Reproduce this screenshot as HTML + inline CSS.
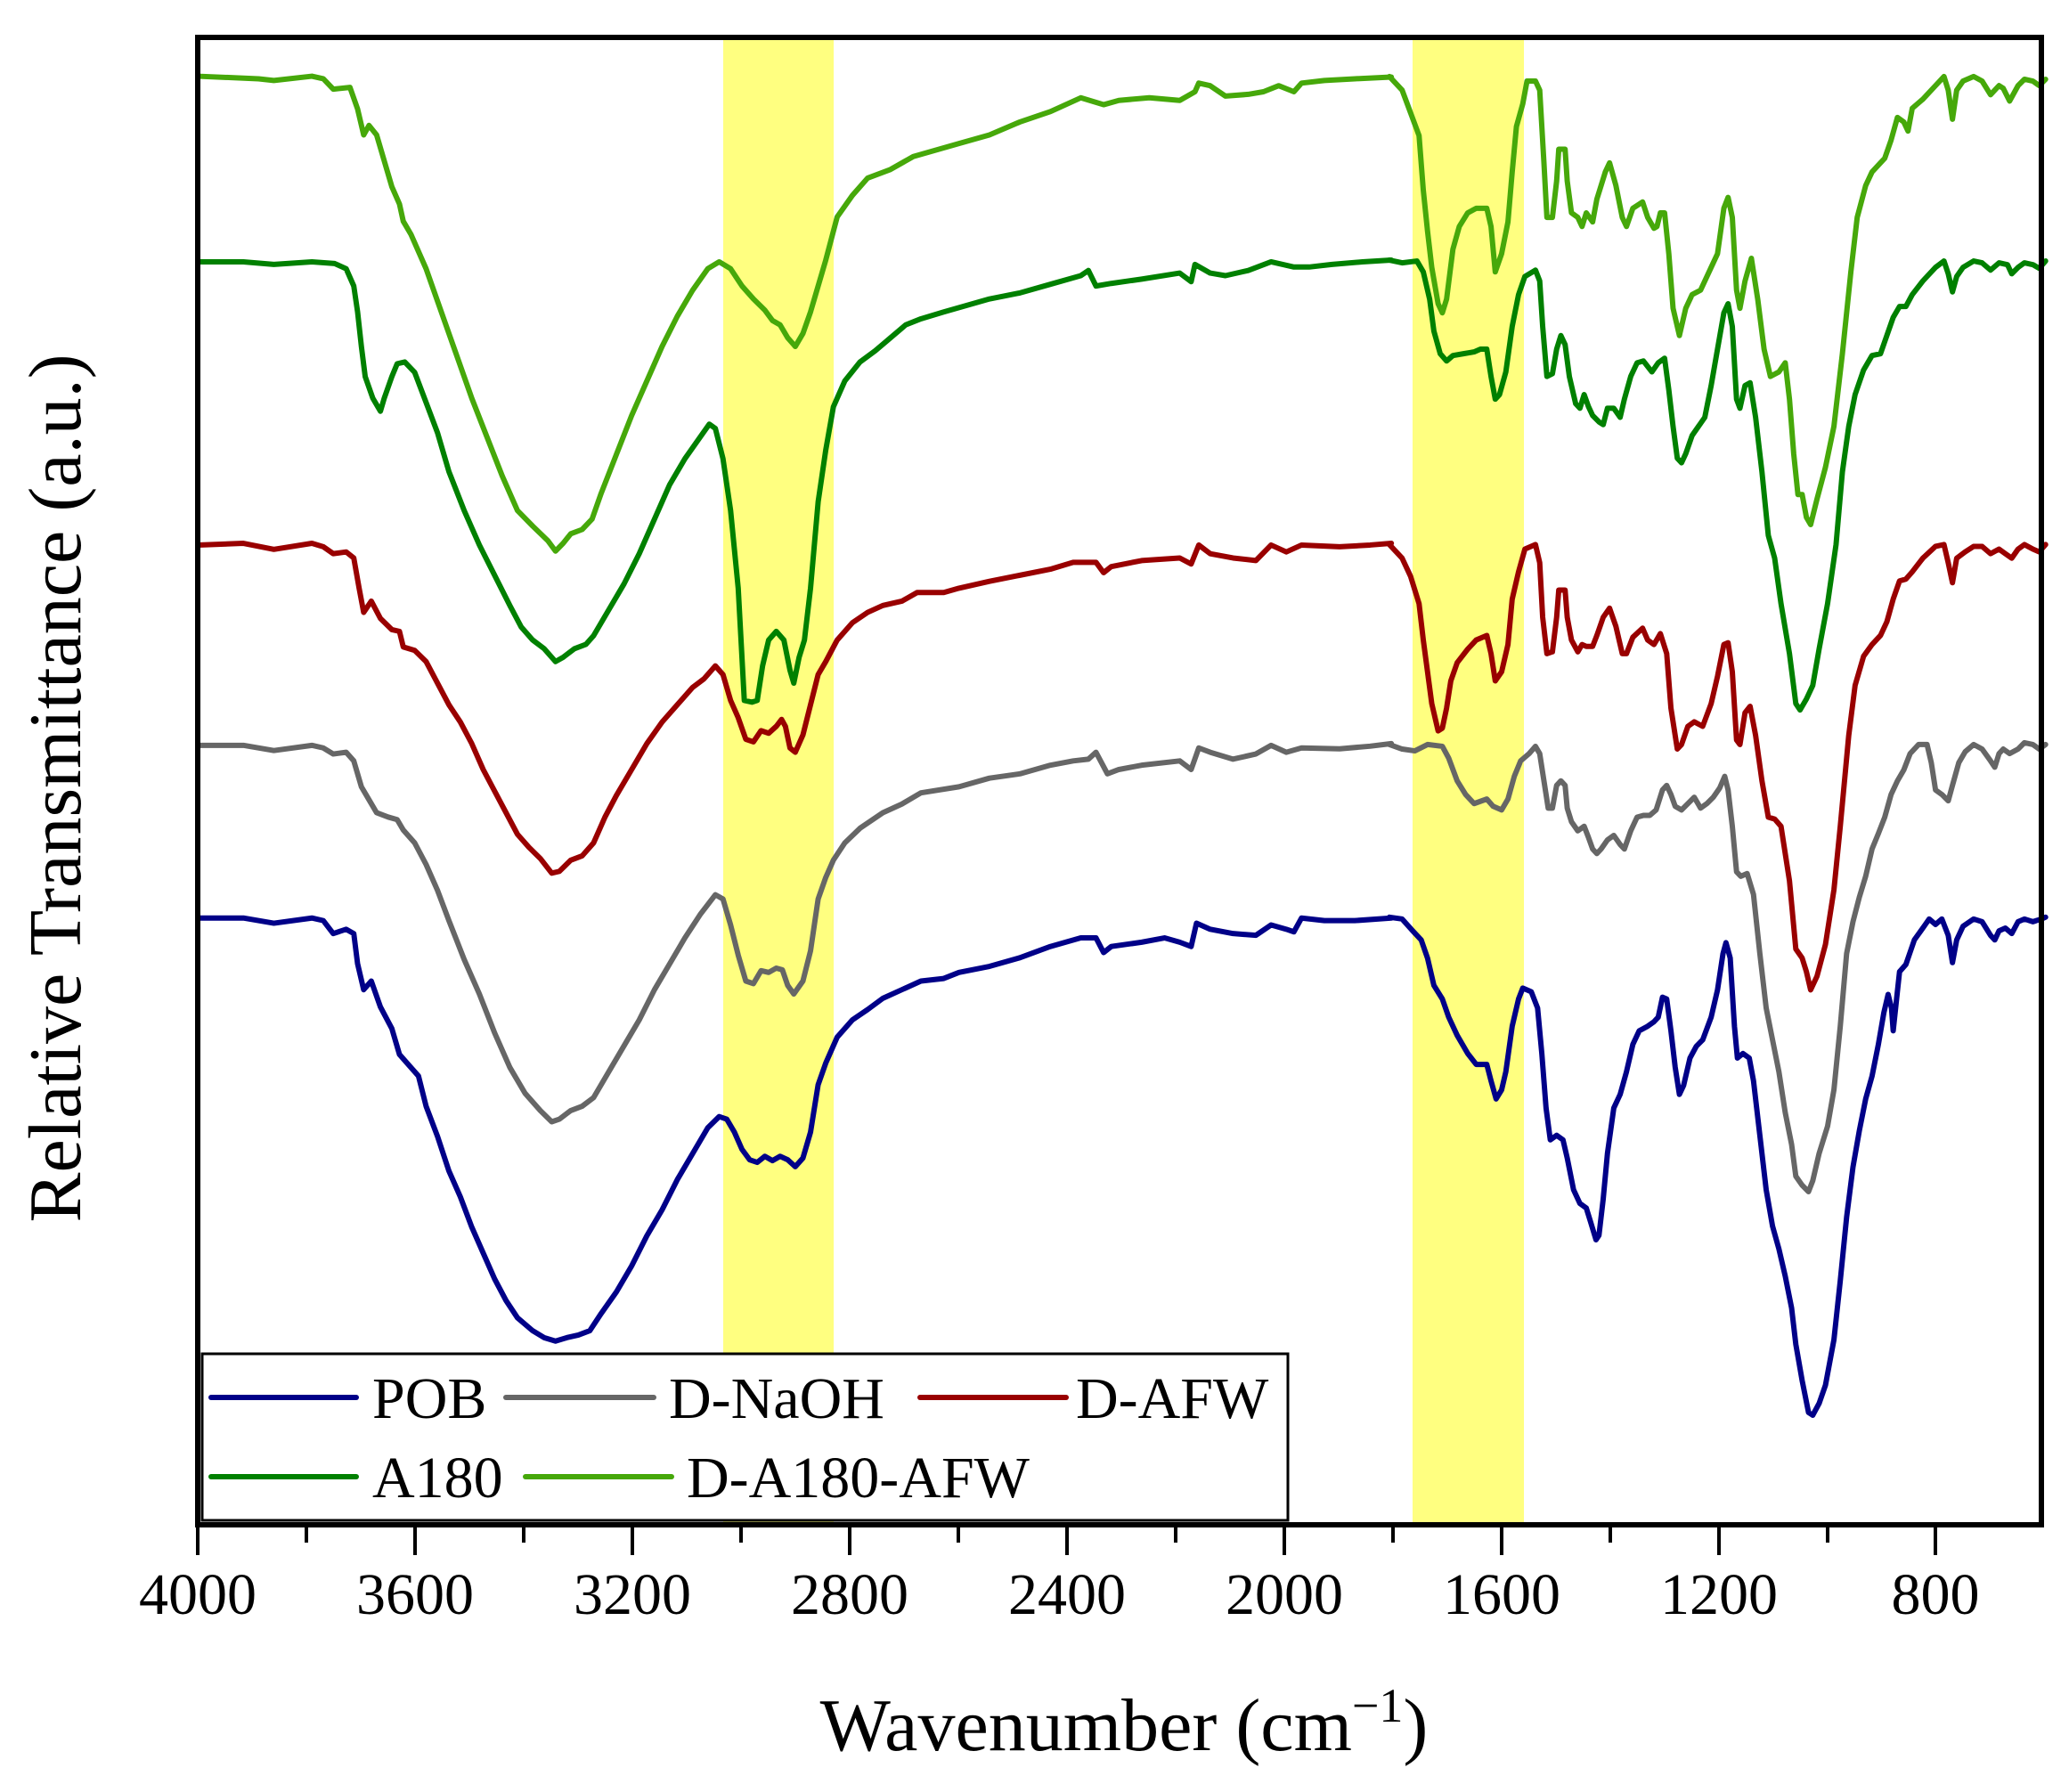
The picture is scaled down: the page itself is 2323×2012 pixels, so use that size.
<!DOCTYPE html>
<html><head><meta charset="utf-8"><style>html,body{margin:0;padding:0;background:#fff}svg{display:block}</style></head>
<body>
<svg xmlns="http://www.w3.org/2000/svg" width="2323" height="2012" viewBox="0 0 2323 2012" font-family="'Liberation Serif', serif">
<rect x="0" y="0" width="2323" height="2012" fill="#fff"/>
<rect x="812" y="40" width="124" height="1672" fill="#ffff80"/>
<rect x="1586" y="40" width="125" height="1672" fill="#ffff80"/>
<g fill="none" stroke-width="6" stroke-linejoin="round" stroke-linecap="round">
<g transform="translate(222,40) scale(0.8547,0.9694)">
<polyline vector-effect="non-scaling-stroke" stroke="#46a80a" points="0,47 80,50 100,52 150,47 165,50 178,62 200,60 210,85 218,115 225,104 235,115 245,145 255,175 265,195 270,215 280,230 300,270 320,320 340,370 360,420 380,465 400,510 420,550 440,568 460,585 470,597 480,588 490,577 505,572 518,560 530,530 550,485 570,440 590,400 610,360 630,325 650,295 670,270 685,262 700,270 715,290 730,305 745,318 755,330 765,335 775,350 785,360 795,345 805,320 815,290 825,260 840,210 860,185 880,165 910,155 940,140 960,135 1000,125 1040,115 1080,100 1120,88 1160,72 1190,80 1210,75 1250,72 1290,75 1310,65 1315,55 1330,58 1350,70 1380,68 1400,65 1420,58 1440,65 1450,55 1480,52 1520,50 1568,48"/>
<polyline vector-effect="non-scaling-stroke" stroke="#008000" points="0,262 60,262 100,265 150,262 180,264 195,270 205,290 210,320 215,360 220,395 230,420 240,435 245,420 255,395 262,380 272,378 285,390 300,425 315,460 330,505 350,550 370,590 390,625 410,660 425,685 440,700 455,710 470,725 480,720 495,710 510,705 520,695 540,665 560,635 580,600 600,560 620,520 640,490 660,465 672,450 680,455 690,490 700,550 710,640 718,770 728,772 735,770 742,730 750,700 760,690 770,700 778,735 783,750 790,720 797,700 805,640 815,540 825,480 835,430 850,400 870,378 890,365 910,350 930,335 950,328 980,320 1000,315 1040,305 1080,298 1120,288 1160,278 1170,272 1180,290 1200,287 1240,282 1290,275 1305,285 1310,265 1330,275 1350,278 1380,272 1410,262 1440,268 1460,268 1490,265 1530,262 1568,260"/>
<polyline vector-effect="non-scaling-stroke" stroke="#990000" points="0,590 60,588 100,595 150,588 165,592 178,600 195,598 205,605 212,640 218,668 228,655 240,675 255,688 265,690 270,708 285,712 300,725 315,750 330,775 345,795 360,820 375,850 390,875 405,900 420,925 435,940 450,953 465,970 475,968 490,955 505,950 520,935 535,905 550,880 570,850 590,820 610,795 630,775 650,755 665,745 680,730 690,740 700,770 710,790 720,815 730,818 740,805 750,808 760,800 767,792 772,800 778,825 785,830 795,810 805,775 815,740 825,725 840,700 860,680 880,668 900,660 925,655 945,645 980,645 1000,640 1040,632 1080,625 1120,618 1150,610 1180,610 1190,622 1200,615 1240,608 1290,605 1305,612 1315,590 1330,600 1360,605 1390,608 1410,590 1430,598 1450,590 1500,592 1540,590 1568,588"/>
<polyline vector-effect="non-scaling-stroke" stroke="#666666" points="0,822 60,822 100,828 150,822 165,825 178,832 195,830 205,840 215,870 225,885 235,900 250,905 262,908 270,920 285,935 300,960 315,990 330,1025 350,1070 370,1110 390,1155 410,1195 430,1225 450,1245 465,1258 475,1255 490,1245 505,1240 520,1230 540,1200 560,1170 580,1140 600,1105 620,1075 640,1045 660,1018 680,995 690,1000 700,1030 710,1065 720,1095 730,1098 740,1083 750,1085 760,1080 768,1082 775,1100 783,1110 795,1095 805,1060 815,1000 825,975 835,955 850,935 870,918 900,900 925,890 950,877 1000,870 1040,860 1080,855 1120,845 1150,840 1170,838 1180,830 1195,855 1210,850 1240,845 1290,840 1305,850 1315,825 1330,830 1360,838 1390,832 1410,822 1430,830 1450,825 1500,826 1540,823 1568,820"/>
<polyline vector-effect="non-scaling-stroke" stroke="#000088" points="0,1022 60,1022 100,1028 150,1022 165,1025 178,1040 195,1035 205,1040 210,1075 218,1105 228,1095 240,1125 255,1150 265,1180 275,1190 290,1205 300,1240 315,1275 330,1315 345,1345 360,1380 375,1410 390,1440 405,1465 420,1485 440,1500 455,1508 470,1512 485,1508 500,1505 515,1500 530,1480 550,1455 570,1425 590,1390 610,1360 630,1325 650,1295 670,1265 685,1252 695,1255 705,1270 715,1290 725,1302 735,1305 745,1298 755,1303 765,1298 775,1302 785,1310 795,1300 805,1270 815,1215 825,1190 840,1160 860,1140 880,1128 900,1115 925,1105 950,1095 980,1092 1000,1085 1040,1078 1080,1068 1120,1055 1160,1045 1180,1045 1190,1062 1200,1055 1240,1050 1270,1045 1290,1050 1305,1055 1312,1028 1330,1035 1360,1040 1390,1042 1410,1030 1430,1035 1440,1038 1450,1022 1480,1025 1520,1025 1568,1022"/>
</g>
<g transform="translate(1560,40) scale(0.4753,1.0204)">
<polyline vector-effect="non-scaling-stroke" stroke="#46a80a" points="0,45 30,60 50,85 70,110 80,170 90,215 100,255 115,295 125,305 135,290 150,235 165,210 185,195 205,190 230,190 240,210 250,260 265,240 280,205 290,150 300,100 315,75 325,50 345,50 355,60 365,140 372,200 385,200 395,160 400,125 415,125 420,160 430,195 445,200 455,210 465,195 480,205 490,180 510,150 520,140 535,165 550,200 560,210 575,190 598,183 610,200 625,212 632,210 640,195 650,195 660,240 670,300 685,330 700,300 715,285 735,280 760,255 775,240 790,190 800,178 810,200 820,280 828,300 840,270 855,245 870,290 885,345 900,375 920,370 935,360 945,400 955,460 965,505 975,505 985,530 995,538 1010,510 1030,475 1050,430 1070,350 1090,260 1105,200 1125,165 1140,150 1160,140 1170,135 1185,115 1200,90 1215,95 1225,105 1235,80 1260,70 1290,55 1310,45 1320,60 1330,92 1340,60 1355,50 1380,45 1400,50 1420,65 1440,55 1450,58 1465,72 1485,55 1500,48 1520,50 1535,55 1550,48"/>
<polyline vector-effect="non-scaling-stroke" stroke="#008000" points="0,247 30,250 65,248 80,260 95,290 105,325 120,350 135,358 150,352 175,350 200,348 215,345 230,345 240,375 250,400 260,395 275,370 290,320 305,285 320,265 345,258 355,270 362,320 372,375 385,372 395,345 405,330 415,340 425,375 440,405 450,410 460,395 470,408 480,418 495,425 505,428 515,410 530,410 545,420 555,400 570,375 585,360 600,358 620,370 635,360 650,355 660,390 670,430 680,465 690,470 700,460 715,440 730,430 745,420 760,385 775,345 790,305 800,295 810,320 820,400 828,410 840,385 852,382 865,420 880,480 895,550 910,575 925,625 945,680 960,735 970,742 985,730 1000,715 1015,675 1035,625 1055,560 1070,480 1085,430 1100,395 1120,368 1140,352 1160,350 1175,330 1190,310 1205,298 1220,298 1235,285 1260,270 1290,255 1310,248 1320,262 1330,282 1340,265 1355,255 1380,248 1400,250 1420,258 1440,250 1460,252 1470,262 1485,255 1500,250 1520,252 1535,256 1550,248"/>
<polyline vector-effect="non-scaling-stroke" stroke="#990000" points="0,560 30,575 50,595 70,625 80,665 90,700 100,735 115,765 125,762 135,740 145,710 160,690 185,675 205,665 230,660 240,680 250,710 265,700 280,670 290,620 305,590 320,565 345,560 355,580 362,640 372,680 385,678 395,640 400,610 415,610 420,640 430,665 445,678 455,670 465,672 480,672 490,660 505,640 520,630 535,650 550,680 560,680 575,662 598,652 610,665 625,670 640,658 655,680 665,740 680,785 690,780 705,760 720,755 740,760 760,735 775,705 790,670 800,668 810,700 820,775 828,780 840,745 852,738 865,770 880,820 895,860 910,862 925,870 945,930 960,1005 975,1015 985,1030 995,1050 1010,1035 1030,1000 1050,940 1065,870 1085,770 1100,715 1120,683 1140,670 1160,660 1175,645 1190,620 1205,600 1220,598 1235,590 1260,575 1290,562 1310,560 1320,580 1330,602 1340,575 1360,568 1380,562 1400,562 1420,570 1440,565 1455,570 1470,575 1485,565 1500,560 1520,565 1535,568 1550,560"/>
<polyline vector-effect="non-scaling-stroke" stroke="#666666" points="0,780 30,785 60,787 90,780 125,782 140,795 160,820 180,835 200,845 230,840 245,848 265,852 280,840 295,815 310,798 330,790 345,782 355,790 365,820 375,850 385,850 395,825 405,820 415,825 420,850 430,865 445,875 460,870 470,882 480,895 490,900 500,895 515,885 530,880 545,890 555,895 570,875 585,860 600,858 615,858 630,852 645,830 655,825 665,835 675,848 690,852 705,845 720,838 735,850 750,845 765,838 780,828 792,815 800,830 810,870 820,920 830,925 845,922 860,945 875,1010 890,1070 905,1105 920,1140 935,1185 950,1220 960,1255 975,1265 990,1272 1000,1260 1015,1230 1035,1200 1050,1160 1065,1090 1080,1010 1095,975 1110,948 1125,925 1140,895 1155,878 1170,860 1185,835 1200,820 1215,808 1230,790 1250,780 1270,780 1280,800 1290,830 1305,835 1320,842 1330,825 1345,800 1360,788 1380,780 1400,785 1420,798 1430,805 1440,790 1450,785 1465,790 1485,785 1500,778 1520,780 1535,785 1550,780"/>
<polyline vector-effect="non-scaling-stroke" stroke="#000088" points="0,970 30,972 55,985 75,995 90,1015 105,1045 125,1060 140,1080 160,1100 185,1120 205,1132 230,1132 240,1150 252,1170 265,1160 275,1140 290,1090 305,1060 315,1048 335,1052 350,1070 360,1120 370,1180 380,1215 395,1210 410,1215 420,1235 435,1270 450,1285 465,1290 475,1305 488,1325 495,1320 505,1280 515,1230 530,1180 545,1165 560,1140 575,1110 590,1095 610,1090 625,1085 635,1080 645,1058 655,1060 665,1095 675,1135 685,1165 695,1155 710,1125 725,1112 740,1105 760,1080 775,1050 788,1010 795,998 805,1015 815,1090 822,1125 835,1120 850,1125 860,1150 875,1210 890,1270 905,1310 920,1335 935,1365 950,1400 960,1440 975,1480 990,1515 1000,1518 1015,1505 1030,1485 1050,1435 1065,1370 1080,1300 1095,1245 1110,1205 1125,1170 1140,1145 1155,1110 1168,1075 1178,1055 1186,1070 1190,1095 1198,1060 1205,1030 1220,1022 1240,995 1260,982 1275,972 1290,978 1305,972 1320,990 1330,1020 1340,995 1355,980 1380,972 1400,975 1420,990 1430,995 1440,985 1455,982 1470,988 1485,975 1500,972 1520,975 1540,972 1550,970"/>
</g>
</g>
<rect x="227" y="1520" width="1219" height="187" fill="#fff" stroke="#000" stroke-width="3"/>
<g stroke-width="6" stroke-linecap="round">
<line x1="237" y1="1569" x2="400" y2="1569" stroke="#000088"/>
<line x1="568" y1="1569" x2="734" y2="1569" stroke="#666666"/>
<line x1="1033" y1="1569" x2="1197" y2="1569" stroke="#990000"/>
<line x1="237" y1="1658" x2="400" y2="1658" stroke="#008000"/>
<line x1="590" y1="1658" x2="754" y2="1658" stroke="#46a80a"/>
</g>
<g font-size="66" fill="#000">
<text x="418" y="1592">POB</text>
<text x="751" y="1592">D-NaOH</text>
<text x="1208" y="1592">D-AFW</text>
<text x="418" y="1681">A180</text>
<text x="771" y="1681">D-A180-AFW</text>
</g>
<rect x="222" y="42" width="2070" height="1670" fill="none" stroke="#000" stroke-width="6"/>
<g stroke="#000" stroke-width="4">
<line x1="222" y1="1712" x2="222" y2="1746"/><line x1="344" y1="1712" x2="344" y2="1732"/>
<line x1="466" y1="1712" x2="466" y2="1746"/><line x1="588" y1="1712" x2="588" y2="1732"/>
<line x1="710" y1="1712" x2="710" y2="1746"/><line x1="832" y1="1712" x2="832" y2="1732"/>
<line x1="954" y1="1712" x2="954" y2="1746"/><line x1="1076" y1="1712" x2="1076" y2="1732"/>
<line x1="1198" y1="1712" x2="1198" y2="1746"/><line x1="1320" y1="1712" x2="1320" y2="1732"/>
<line x1="1442" y1="1712" x2="1442" y2="1746"/><line x1="1564" y1="1712" x2="1564" y2="1732"/>
<line x1="1686" y1="1712" x2="1686" y2="1746"/><line x1="1808" y1="1712" x2="1808" y2="1732"/>
<line x1="1930" y1="1712" x2="1930" y2="1746"/><line x1="2052" y1="1712" x2="2052" y2="1732"/>
<line x1="2173" y1="1712" x2="2173" y2="1746"/>
</g>
<g font-size="66" text-anchor="middle" fill="#000">
<text x="222" y="1812">4000</text><text x="466" y="1812">3600</text><text x="710" y="1812">3200</text>
<text x="954" y="1812">2800</text><text x="1198" y="1812">2400</text><text x="1442" y="1812">2000</text>
<text x="1686" y="1812">1600</text><text x="1930" y="1812">1200</text><text x="2173" y="1812">800</text>
</g>
<text x="1262" y="1965" font-size="84" text-anchor="middle">Wavenumber (cm<tspan font-size="54" dy="-32">−1</tspan><tspan dy="32">)</tspan></text>
<text transform="translate(90,885) rotate(-90)" font-size="84" text-anchor="middle">Relative Transmittance (a.u.)</text>
</svg>
</body></html>
